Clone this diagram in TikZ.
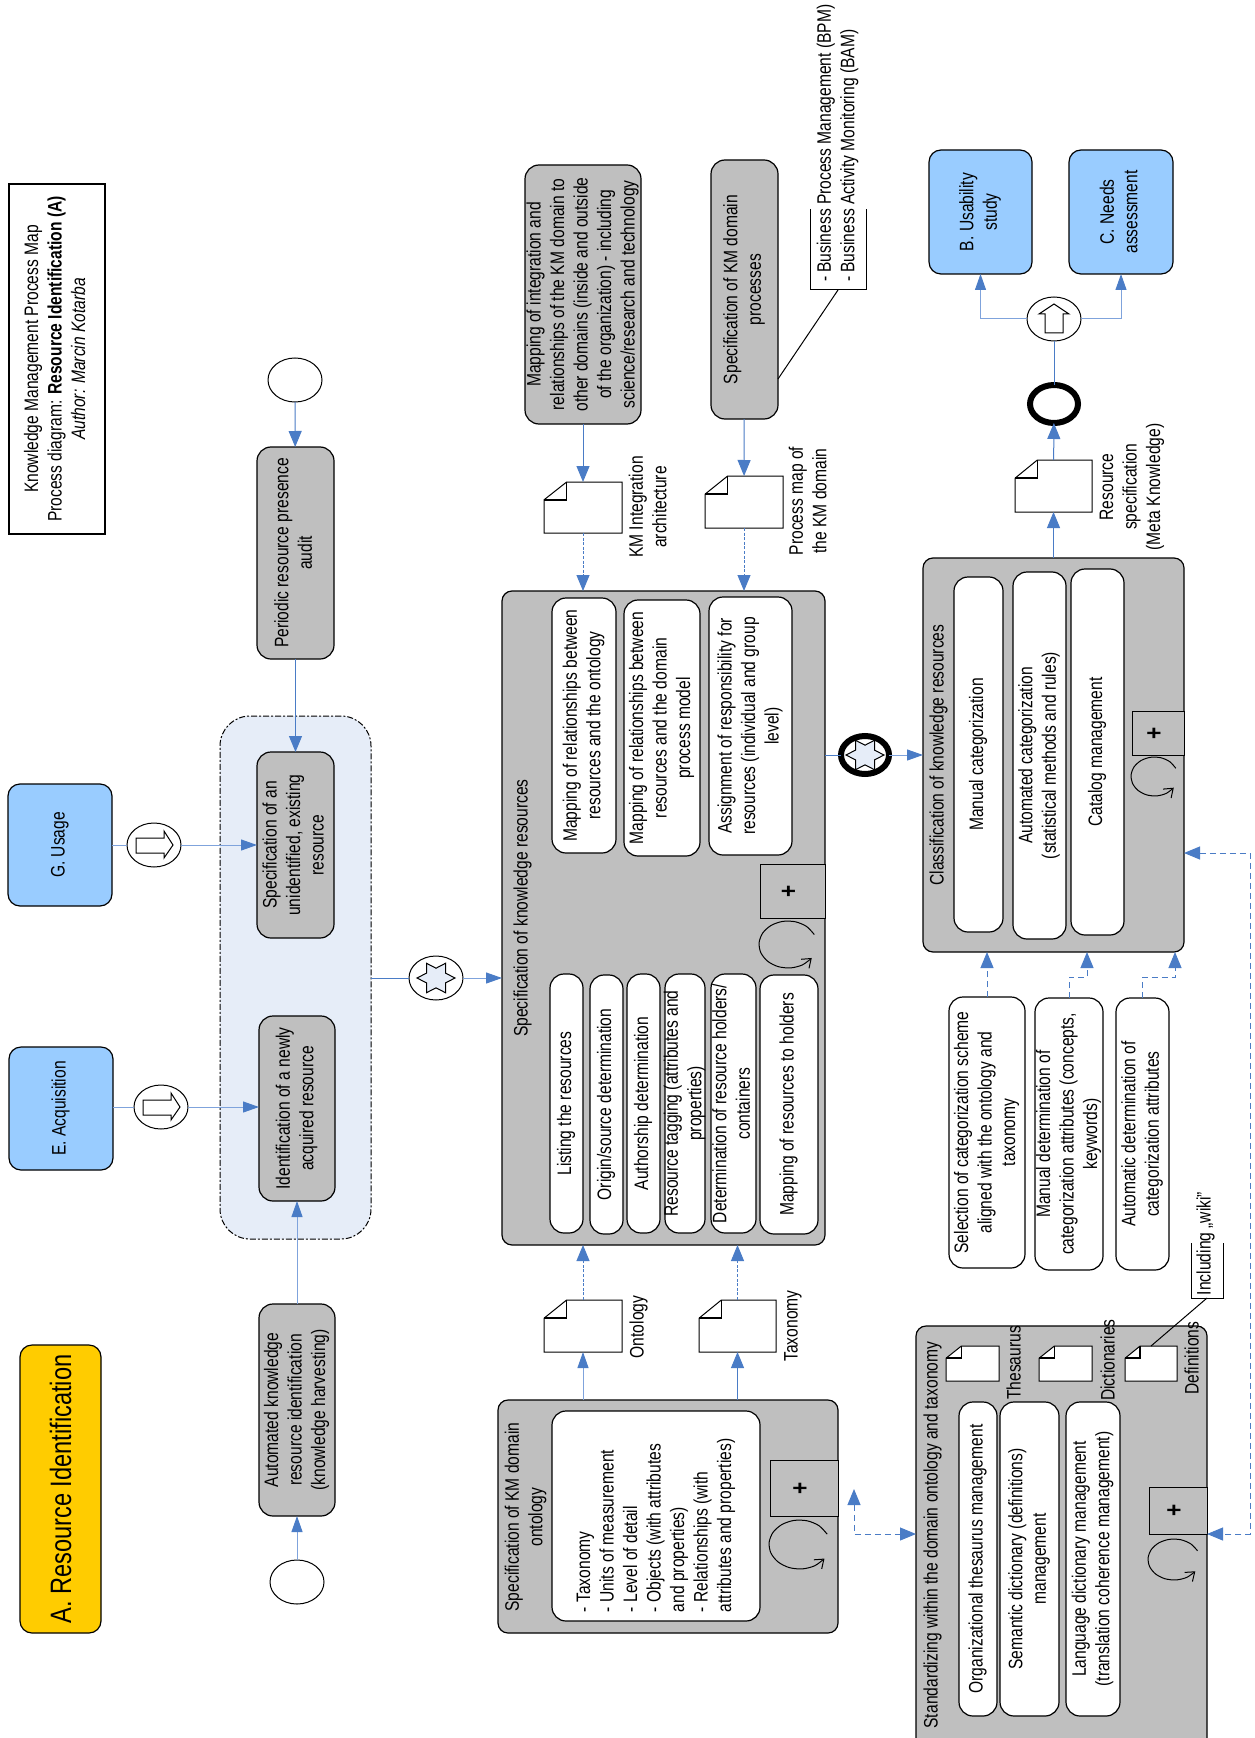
\documentclass[tikz,border=0pt]{standalone}
\usepackage{fontspec}
\usepackage{graphicx}
\usepackage{array}
\setmainfont[FakeStretch=0.8]{Liberation Sans}
\usetikzlibrary{arrows.meta,shapes.geometric,calc}
\definecolor{gbox}{HTML}{BFBFBF}
\definecolor{bbox}{HTML}{99CCFF}
\definecolor{ybox}{HTML}{FFCC00}
\definecolor{grp}{HTML}{E6EDF8}
\definecolor{lin}{HTML}{4A7CC6}
\definecolor{linl}{HTML}{7FA3DC}
% rotated text of no size, centred on the node
\newcommand\rtn[2][c]{\rotatebox{90}{\fontsize{9.75}{11.75}\selectfont\begin{tabular}{@{}#1@{}}#2\end{tabular}}}
\newcommand\rt[2][c]{\makebox[0pt]{\smash{\raisebox{-.5\height}{\rtn[#1]{#2}}}}}
\newcommand\plusm{{\fontsize{13}{13}\selectfont\textbf{+}}}
\newcommand\bx[7][gb]{\node[#1,minimum width={(#5-#3)*0.5pt},minimum height={(#6-#4)*0.5pt}] (#2) at ({(#3+#5)/2},{(#4+#6)/2}) {\ifx&#7&\else\rt{#7}\fi};}
\newcommand\ev[4][evt]{\node[#1] (#2) at (#3,#4) {};}
\newcommand\docm[5]{%
 \node[hid,minimum width={(#4-#2)*0.5pt},minimum height={(#5-#3)*0.5pt}] (#1) at ({(#2+#4)/2},{(#3+#5)/2}) {};
 \draw[docl,fill=white] ($(#1.north west)+(0,{0.35*(#5-#3)})$) -- ($(#1.north west)+({0.29*(#4-#2)},0)$) -- (#1.north east) -- (#1.south east) -- (#1.south west) -- cycle;
 \draw[docl,line width=0.8pt] ($(#1.north west)+(0,{0.35*(#5-#3)})$) -- ($(#1.north west)+({0.29*(#4-#2)},{0.35*(#5-#3)})$) -- ($(#1.north west)+({0.29*(#4-#2)},0)$);}
\newcommand\annot[5]{%
 \node[hid,minimum width={(#4-#2)*0.5pt},minimum height={(#5-#3)*0.5pt}] (#1) at ({(#2+#4)/2},{(#3+#5)/2}) {};
 \draw[docl] (#1.north west) -- (#1.south west) -- (#1.south east) -- (#1.north east);}
\newcommand\loopm[4]{\draw[black,line width=0.5pt,-{Straight Barb[length=4pt,width=6pt]}] plot[smooth,samples at={25,50,...,325}] ({(#1+#3)/2+(#3-#1)/2*cos(\x)},{(#2+#4)/2-(#4-#2)/2*sin(\x)});}
\newcommand\starm[2]{\draw[black,line width=0.5pt,fill=grp] plot[samples at={0,30,...,330}] ({#1+19*(0.7885+0.2115*cos(6*\x))*cos(\x)},{#2+17*(0.7885+0.2115*cos(6*\x))*sin(\x)}) -- cycle;}
\tikzset{
 gb/.style={draw=black,fill=gbox,rounded corners=7pt,inner sep=0pt,outer sep=0pt,line width=0.6pt},
 sub/.style={gb,rounded corners=5pt},
 wb/.style={gb,fill=white,rounded corners=7pt},
 bl/.style={gb,fill=bbox,rounded corners=6pt},
 yl/.style={gb,fill=ybox,rounded corners=6pt},
 pl/.style={draw=black,fill=gbox,inner sep=0pt,outer sep=0pt,line width=0.5pt},
 hid/.style={inner sep=0pt,outer sep=0pt},
 docl/.style={draw=black,line width=0.5pt},
 lbl/.style={inner sep=0pt,outer sep=0pt},
 evt/.style={ellipse,draw=black,fill=white,line width=0.5pt,minimum width=27pt,minimum height=22pt,inner sep=0pt,outer sep=0pt},
 evb/.style={evt,line width=3pt,minimum width=24pt,minimum height=19pt},
 fl/.style={draw=lin,line width=0.5pt,-{Triangle[length=8pt,width=6.5pt]},color=lin},
 fn/.style={draw=lin,line width=0.5pt},
 fll/.style={fl,draw=linl,-{Triangle[length=8pt,width=5.5pt,color=lin]}},
 fnl/.style={fn,draw=linl},
 fd/.style={draw=linl,color=lin,line width=0.5pt,-{Triangle[length=8pt,width=6.5pt,color=lin]},dash pattern=on 1.5pt off 0.8pt},
 fdb/.style={draw=linl,color=lin,line width=0.5pt,dash pattern=on 3pt off 2pt,{Triangle[length=8pt,width=6.5pt,color=lin]}-{Triangle[length=8pt,width=6.5pt,color=lin]}},
 fdo/.style={draw=linl,color=lin,line width=0.5pt,dash pattern=on 3pt off 2pt,-{Triangle[length=8pt,width=6.5pt,color=lin]}},
 blk/.style={draw=black,fill=white,line width=0.5pt}
}
\begin{document}
\begin{tikzpicture}[x=0.5pt,y=-0.5pt]
\useasboundingbox (0,0) rectangle (1254,1738);
\clip (0,0) rectangle (1254,1738);
\fill[white] (0,0) rectangle (1254,1738);
% title etc
\node[draw=black,fill=white,line width=0.7pt,inner sep=0pt,outer sep=0pt,minimum width=48pt,minimum height=175pt] (title) at (57,359) {\rt{Knowledge Management Process Map\\Process diagram: \textbf{Resource Identification (A)}\\\textit{Author: Marcin Kotarba}}};
\node[yl,minimum width=40.5pt,minimum height=144pt] (area) at (60.5,1489) {\makebox[0pt]{\smash{\raisebox{-.5\height}{\rotatebox{90}{\fontsize{14.75}{17}\selectfont A. Resource Identification}}}}};
% group
\node[draw=black,fill=grp,dash pattern=on 3pt off 1pt on 1pt off 1pt,line width=0.5pt,rounded corners=15pt,inner sep=0pt,outer sep=0pt,minimum width=75.5pt,minimum height=261.5pt] (group) at (295.5,977.5) {};
% left column
\ev{st1}{295}{380}
\bx{periodic}{257}{447}{334}{659}{Periodic resource presence\\audit}
\bx{specun}{257}{752}{334}{938}{Specification of an\\unidentified, existing\\resource}
\bx{ident}{259}{1016}{335}{1201}{Identification of a newly\\acquired resource}
\bx{harvest}{259}{1304}{335}{1516}{Automated knowledge\\resource identification\\(knowledge harvesting)}
\ev{st2}{297}{1582}
\bx[bl]{usage}{8}{784}{112}{906}{G. Usage}
\bx[bl]{acq}{9}{1047}{113}{1170}{E. Acquisition}
\ev{lnk1}{154}{845}
\ev{lnk2}{161}{1107}
\draw[blk] (136,838) -- (164,838) -- (164,831) -- (173,845) -- (164,858) -- (164,853) -- (136,853) -- cycle;
\draw[blk] (143,1100) -- (171,1100) -- (171,1093) -- (180,1107) -- (171,1120) -- (171,1115) -- (143,1115) -- cycle;
\ev{star1}{436}{978}
\starm{436}{978}
% specification of knowledge resources
\bx[sub]{spec}{502}{591}{825}{1245}{}
\node[lbl] (spect) at (523,908) {\rtn{Specification of knowledge resources}};
\bx[wb]{m1}{552}{598}{616}{853}{Mapping of relationships between\\resources and the ontology}
\bx[wb]{m2}{624}{600}{700}{856}{Mapping of relationships between\\resources and the domain\\process model}
\bx[wb]{m3}{709}{597}{792}{855}{Assignment of responsibility for\\resources (individual and group\\level)}
\bx[wb]{l1}{550}{974}{583}{1233}{Listing the resources}
\bx[wb]{l2}{590}{975}{623}{1234}{Origin/source determination}
\bx[wb]{l3}{627}{974}{660}{1233}{Authorship determination}
\bx[wb]{l4}{665}{974}{705}{1233}{Resource tagging (attributes and\\properties)}
\bx[wb]{l5}{711}{974}{756}{1233}{Determination of resource holders/\\containers}
\bx[wb]{l6}{760}{975}{818}{1234}{Mapping of resources to holders}
\bx[pl]{pl1}{760}{864}{825}{918}{\plusm}
\loopm{759}{921}{817}{968}
% upper column
\bx{mapint}{525}{165}{641}{424}{Mapping of integration and\\relationships of the KM domain to\\other domains (inside and outside\\of the  organization) - including\\science/research and technology}
\bx{specproc}{711}{160}{778}{419}{Specification of KM domain\\processes}
\docm{dkm}{544}{482}{622}{533}
\docm{dpm}{705}{476}{783}{528}
\node[lbl] (tkm) at (650,507) {\rtn{KM Integration\\architecture}};
\node[lbl] (tpm) at (810,501) {\rtn{Process map of\\the KM domain}};
\annot{abpm}{810}{209}{866}{290}
\node[lbl,anchor=south] (tbpm) at (838,282) {\rtn[l]{- Business  Process Management (BPM)\\- Business  Activity Monitoring (BAM)}};
% ontology
\bx[sub]{onto}{498}{1400}{838}{1633}{}
\node[lbl] (ontot) at (526,1517) {\rtn{Specification of KM domain\\ontology}};
\bx[wb]{ontoin}{552}{1411}{760}{1621}{}
\node[lbl,anchor=south] (ontol) at (656,1612) {\rtn[l]{- Taxonomy\\- Units of measurement\\- Level of detail\\- Objects (with attributes\\and properties)\\- Relationships (with\\attributes and properties)}};
\bx[pl]{pl2}{770}{1460}{838}{1516}{\plusm}
\loopm{769}{1520}{830}{1569}
\docm{dont}{544}{1300}{622}{1352}
\docm{dtax}{699}{1300}{776}{1352}
\node[lbl] (tont) at (639,1327) {\rtn{Ontology}};
\node[lbl] (ttax) at (793,1326) {\rtn{Taxonomy}};
% classification
\bx[sub]{class}{923}{558}{1184}{952}{}
\node[lbl] (classt) at (939,755) {\rtn{Classification of knowledge resources}};
\bx[wb]{c1}{954}{577}{1003}{932}{Manual categorization}
\bx[wb]{c2}{1013}{572}{1066}{939}{Automated categorization\\(statistical methods and rules)}
\bx[wb]{c3}{1071}{569}{1124}{935}{Catalog management}
\bx[pl]{pl3}{1132}{711}{1184}{755}{\plusm}
\loopm{1131}{757}{1178}{796}
\bx[wb]{sel}{949}{997}{1025}{1268}{Selection of categorization scheme\\aligned with the ontology and\\taxonomy}
\bx[wb]{mand}{1035}{998}{1103}{1270}{Manual determination of\\categorization attributes (concepts,\\keywords)}
\bx[wb]{autod}{1116}{998}{1169}{1270}{Automatic determination of\\categorization attributes}
\ev[evb]{star2}{865}{755}
\starm{865}{755}
% standardizing
\bx[sub]{stand}{916}{1326}{1207}{1760}{}
\node[lbl] (standt) at (933,1535) {\rtn{Standardizing within the domain ontology and taxonomy}};
\bx[wb]{s1}{959}{1402}{997}{1716}{Organizational thesaurus management}
\bx[wb]{s2}{1000}{1402}{1059}{1716}{Semantic dictionary (definitions)\\management}
\bx[wb]{s3}{1066}{1402}{1120}{1716}{Language dictionary management\\(translation coherence management)}
\bx[pl]{pl4}{1149}{1487}{1207}{1534}{\plusm}
\loopm{1148}{1539}{1200}{1580}
\docm{dthe}{946}{1346}{999}{1381}
\docm{ddic}{1039}{1346}{1092}{1381}
\docm{ddef}{1125}{1346}{1177}{1381}
\node[lbl] (tthe) at (1016,1363) {\rtn{Thesaurus}};
\node[lbl] (tdic) at (1110,1360) {\rtn{Dictionaries}};
\node[lbl] (tdef) at (1194,1358) {\rtn{Definitions}};
\annot{awiki}{1191}{1243}{1223}{1298}
\node[lbl,anchor=south] (twiki) at (1206,1295) {\rtn[l]{Including „wiki”}};
\draw[docl] (awiki.south) -- ($(ddef.north west)+(26,0)$);
\draw[docl] (specproc.east |- 0,379) -- (abpm.south);
% right top
\bx[bl]{usab}{929}{150}{1032}{274}{B. Usability\\study}
\bx[bl]{needs}{1069}{150}{1173}{274}{C. Needs\\assessment}
\ev{gate}{1054}{319}
\draw[blk] (1045,333) -- (1045,314) -- (1039,314) -- (1054,304) -- (1069,314) -- (1063,314) -- (1063,333) -- cycle;
\ev[evb]{endev}{1054}{404}
\docm{dres}{1015}{460}{1092}{512}
\node[lbl] (tres) at (1132,487) {\rtn{Resource\\specification\\(Meta Knowledge)}};
% connectors
\draw[fl] (st1) -- (periodic);
\draw[fl] (periodic) -- (specun);
\draw[fll] (harvest) -- (ident);
\draw[fll] (st2) -- (harvest);
\draw[fnl] (usage.east |- lnk1) -- (lnk1);
\draw[fll] (lnk1) -- (lnk1 -| specun.west);
\draw[fnl] (acq.east |- lnk2) -- (lnk2);
\draw[fll] (lnk2) -- (lnk2 -| ident.west);
\draw[fn] (group.east |- star1) -- (star1);
\draw[fll] (star1) -- (star1 -| spec.west);
\draw[fl] (mapint) -- (dkm);
\draw[fd] (dkm) -- (dkm |- spec.north);
\draw[fl] (specproc) -- (dpm);
\draw[fd] (dpm) -- (dpm |- spec.north);
\draw[fll] (dont |- onto.north) -- (dont);
\draw[fd] (dont) -- (dont |- spec.south);
\draw[fl] (dtax |- onto.north) -- (dtax);
\draw[fd] (dtax) -- (dtax |- spec.south);
\draw[fn] (spec.east |- star2) -- (star2);
\draw[fll] (star2) -- (star2 -| class.west);
\draw[fl] (dres |- class.north) -- (dres);
\draw[fl] (dres) -- (endev);
\draw[fn] (endev) -- (gate);
\coordinate (gl) at (usab.south |- gate);
\coordinate (gr) at (needs.south |- gate);
\draw[fll] (gate) -- (gl) -- (usab.south);
\draw[fll] (gate) -- (gr) -- (needs.south);
\draw[fdo] (sel) -- (sel |- class.south);
\coordinate (k1) at (1087,977);
\coordinate (k2) at (1175,977);
\draw[fdo] (mand) |- (k1) -- (k1 |- class.south);
\draw[fdo] (autod) |- (k2) -- (k2 |- class.south);
\coordinate (r1) at (1250,853);
\coordinate (r2) at (1250,1534);
\draw[fdb] (r1 -| class.east) -- (r1) -- (r2) -- (r2 -| stand.east);
\coordinate (o1) at (854,1489);
\coordinate (o2) at (854,1534);
\draw[fdb] (o1) -- (o2) -- (o2 -| stand.west);
\end{tikzpicture}
\end{document}
